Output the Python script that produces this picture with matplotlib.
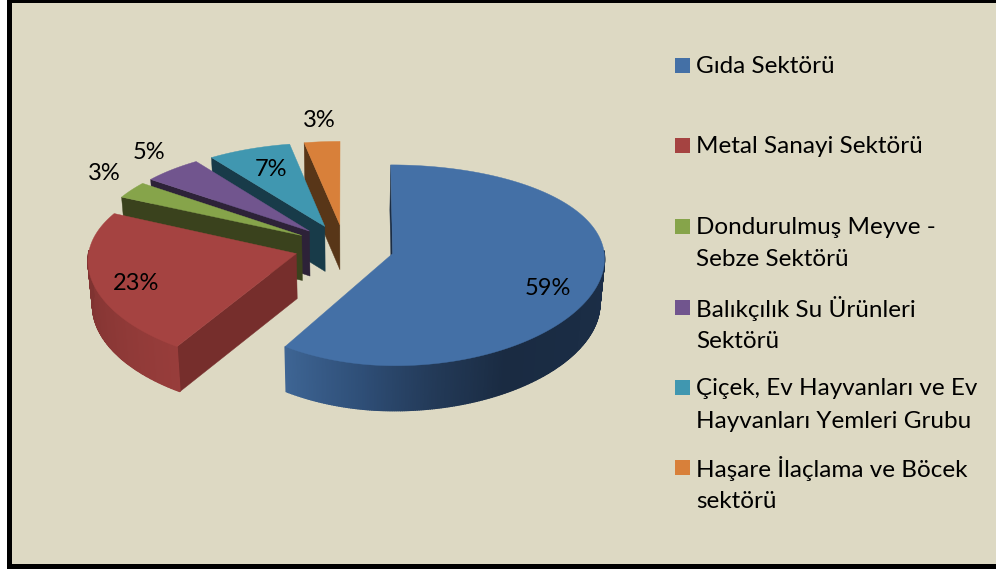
import numpy as np
import matplotlib
matplotlib.use("Agg")
import matplotlib.pyplot as plt
from matplotlib.colors import to_rgb
from matplotlib.patches import Polygon, Rectangle

# --- data -------------------------------------------------------------
categories = ["Gıda Sektörü", "Metal Sanayi Sektörü",
              "Dondurulmuş Meyve -\nSebze Sektörü",
              "Balıkçılık Su Ürünleri\nSektörü",
              "Çiçek, Ev Hayvanları ve Ev\nHayvanları Yemleri Grubu",
              "Haşare İlaçlama ve Böcek\nsektörü"]
values = [59, 23, 3, 5, 7, 3]

top_colors = ["#4470A6", "#A54341", "#86A44A", "#71558E", "#4097B0", "#D8803A"]
cut_colors = ["#1B2D45", "#762E2C", "#3A421D", "#2D2238", "#183B49", "#583618"]
rim_near = ["#3E6594", "#963C3A", "#3A421D", "#2D2238", "#183B49", "#583618"]

# --- layout -----------------------------------------------------------
W, H = 996, 570
CX, CY = 344.5, 247     # pie centre on screen
R, EXPLODE = 211, 50    # radius, explosion
SQUASH, K, KX = 0.4577, 0.0005, 0.0002
DEPTH, Q = 45, 0.018
NEAR_STRETCH = 0.012    # extra foreshortening correction for near points
FAR_SHRINK = 0.0001     # left-hand side narrows toward the back
LEFT_SCALE = [0.93, 1, 1, 1, 1, 1]
LABEL_POS = [(548, 288.5), (136, 283.5), (104, 173.5), (149, 152.5), (271, 169.5), (319, 120.5)]
SWATCH_Y = [65, 145, 226, 307, 387, 467]
FONT = "Lato"


def top(X, Y):
    near = NEAR_STRETCH * max(-Y, 0)
    return (CX + X / (1 + KX * Y), CY - SQUASH * Y / (1 + K * Y) + near)


def bottom(X, Y):
    x, y = top(X, Y)
    return (CX + (x - CX) * (1 - Q), y + DEPTH)


def blue_wall(a):
    stops_a = [90, 150, 170, 190, 212.4]
    stops_c = ["#1B2E47", "#1A2B42", "#233A58", "#2F4F78", "#3E6594"]
    rgb = np.array([to_rgb(c) for c in stops_c])
    return tuple(np.interp(a, stops_a, rgb[:, i]) for i in range(3))


def red_wall(a):
    rgb = np.array([to_rgb("#7F3331"), to_rgb("#983D3B")])
    return tuple(np.interp(a, [212.4, 270], rgb[::-1, i]) for i in range(3))


fig = plt.figure(figsize=(W / 100, H / 100), dpi=100, facecolor="white")
ax = fig.add_axes([0, 0, 1, 1])
ax.set_xlim(0, W)
ax.set_ylim(H, 0)
ax.axis("off")

ax.add_patch(Rectangle((8.5, -0.5), 1100, 566, facecolor="#DDD9C3",
                       edgecolor="black", linewidth=3.6, zorder=0))

fractions = np.array(values, float) / sum(values)
edges = np.concatenate([[0], np.cumsum(fractions) * 360])

order = [5, 4, 3, 2, 1, 0]
z = 1
for i in order:
    a0, a1 = edges[i], edges[i + 1]
    mid = np.radians((a0 + a1) / 2)
    ox, oy = EXPLODE * np.sin(mid), EXPLODE * np.cos(mid)
    ang = np.linspace(a0, a1, max(int(a1 - a0) * 2, 8) + 1)
    dx = R * np.sin(np.radians(ang))
    py = oy + R * np.cos(np.radians(ang))
    scale = LEFT_SCALE[i] * (1 - FAR_SHRINK * (py + 193).clip(0))
    px = ox + np.where(dx < 0, dx * scale, dx)

    # visible straight cut face (the clockwise-start edge)
    cut = [top(ox, oy), top(px[0], py[0]), bottom(px[0], py[0]), bottom(ox, oy)]
    ax.add_patch(Polygon(cut, closed=True, facecolor=cut_colors[i],
                         edgecolor=cut_colors[i], linewidth=0.3, zorder=z))
    z += 1

    # outer curved wall, near-facing part only
    for j in range(len(ang) - 1):
        am = (ang[j] + ang[j + 1]) / 2
        if not (88 <= am <= 272):
            continue
        c = blue_wall(am) if i == 0 else red_wall(am) if i == 1 else rim_near[i]
        quad = [top(px[j], py[j]), top(px[j + 1], py[j + 1]),
                bottom(px[j + 1], py[j + 1]), bottom(px[j], py[j])]
        ax.add_patch(Polygon(quad, closed=True, facecolor=c, edgecolor=c,
                             linewidth=1.0, zorder=z))
    z += 1

    # top surface
    pts = [top(ox, oy)] + [top(a, b) for a, b in zip(px, py)]
    ax.add_patch(Polygon(pts, closed=True, facecolor=top_colors[i],
                         edgecolor=top_colors[i], linewidth=0.3, zorder=z))
    z += 1

for v, (x, y) in zip(values, LABEL_POS):
    ax.text(x, y, f"{v}%", ha="center", va="center", fontsize=17,
            family=FONT, color="black", zorder=50)

for name, col, y in zip(categories, top_colors, SWATCH_Y):
    ax.add_patch(Rectangle((675, y - 7.5), 15, 15, facecolor=col,
                           edgecolor="none", zorder=50))
    for k, line in enumerate(name.split("\n")):
        ax.text(696, y + 1.5 + k * 32.5, line, ha="left", va="center", fontsize=17.5,
                family=FONT, color="black", zorder=50)

fig.savefig("out.png", dpi=100, facecolor="white")
